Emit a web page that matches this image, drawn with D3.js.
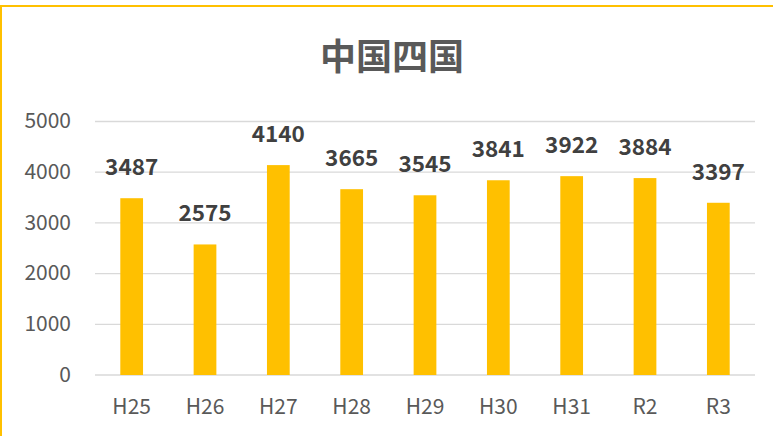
<!DOCTYPE html>
<html><head><meta charset="utf-8">
<script src="https://cdn.jsdelivr.net/npm/d3@7"></script>
<style>body{margin:0;background:#fff;}svg{display:block;}</style>
</head><body>
<script>
const categories = ["H25","H26","H27","H28","H29","H30","H31","R2","R3"];
const values = [3487,2575,4140,3665,3545,3841,3922,3884,3397];
const yTicks = [0,1000,2000,3000,4000,5000];
const title = "中国四国";

const W = 773, H = 436;
const svg = d3.select("body").append("svg").attr("width", W).attr("height", H);
const font = "'Noto Sans CJK JP','Noto Sans',sans-serif";

// border
svg.append("rect").attr("x", 1).attr("y", 6).attr("width", W + 10).attr("height", H + 10)
  .attr("fill", "#fff").attr("stroke", "#FFC000").attr("stroke-width", 2);

const x = d3.scaleBand().domain(categories).range([95, 755]).paddingInner(0.69).paddingOuter(0.345);
const y = d3.scaleLinear().domain([0, 5000]).range([375, 121.5]);

// gridlines
svg.append("g").selectAll("line").data(yTicks).join("line")
  .attr("x1", 95).attr("x2", 755)
  .attr("y1", d => y(d)).attr("y2", d => y(d))
  .attr("stroke", "#d9d9d9").attr("stroke-width", 1.3);

// y axis labels
const yAxis = d3.axisLeft(y).tickValues(yTicks).tickSize(0).tickPadding(0).tickFormat(d3.format("d"));
const gy = svg.append("g").attr("transform", "translate(71,0)").call(yAxis);
gy.select(".domain").remove();
gy.selectAll("text").attr("font-family", font).attr("font-size", 21).attr("fill", "#595959").attr("dy", "0.3em");

// x axis labels
const xAxis = d3.axisBottom(x).tickSize(0).tickPadding(0);
const gx = svg.append("g").attr("transform", "translate(0,399)").call(xAxis);
gx.select(".domain").remove();
gx.selectAll("text").attr("font-family", font).attr("font-size", 21).attr("fill", "#595959");

// bars
svg.append("g").selectAll("rect").data(values).join("rect")
  .attr("x", (d, i) => x(categories[i]))
  .attr("width", x.bandwidth())
  .attr("y", d => y(d))
  .attr("height", d => y(0) - y(d))
  .attr("fill", "#FFC000");

// data labels
svg.append("g").selectAll("text").data(values).join("text")
  .attr("x", (d, i) => x(categories[i]) + x.bandwidth() / 2)
  .attr("y", d => y(d) - 23)
  .attr("text-anchor", "middle")
  .attr("font-family", font).attr("font-weight", "bold").attr("font-size", 22.5)
  .attr("fill", "#404040")
  .text(d => d);

// title
svg.append("text").attr("x", 392).attr("y", 70).attr("text-anchor", "middle")
  .attr("font-family", font).attr("font-weight", "bold").attr("font-size", 36)
  .attr("fill", "#595959").text(title);
</script>
</body></html>
